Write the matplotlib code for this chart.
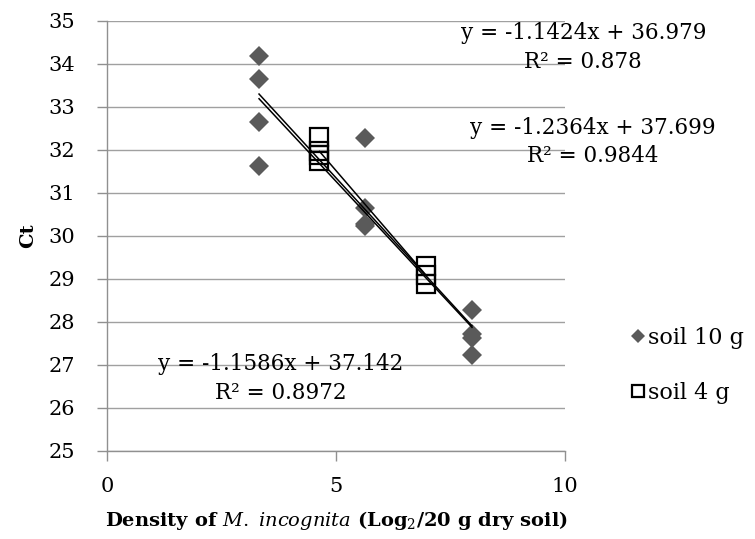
import matplotlib
matplotlib.use("Agg")
import matplotlib.pyplot as plt
import numpy as np

# soil 10 g : densities 10, 50, 250 -> log2
x10 = [3.32, 3.32, 3.32, 3.32, 5.64, 5.64, 5.64, 5.64, 7.97, 7.97, 7.97, 7.97]
ct10 = [34.19, 33.64, 32.65, 31.63, 32.28, 30.65, 30.28, 30.22, 28.27, 27.72, 27.62, 27.23]

# soil 4 g
x4 = [4.64, 4.64, 4.64, 4.64, 6.97, 6.97, 6.97]
ct4 = [32.30, 31.98, 31.88, 31.75, 29.31, 29.08, 28.88]

# trend lines (slope, intercept, x range) and their labels
fit10 = [-1.1424, 36.979]
fit4 = [-1.2364, 37.699]
fitall = [-1.1586, 37.142]
range10 = [3.32, 7.97]
range4 = [4.64, 6.97]
rangeall = [3.32, 7.97]
lab10 = "y = -1.1424x + 36.979\nR² = 0.878"
lab4 = "y = -1.2364x + 37.699\nR² = 0.9844"
laball = "y = -1.1586x + 37.142\nR² = 0.8972"

plt.rcParams['font.family'] = ['DejaVu Serif']
plt.rcParams['mathtext.fontset'] = 'dejavuserif'

fig = plt.figure(figsize=(7.55, 5.39), dpi=100)
ax = fig.add_axes([0.1417, 0.1633, 0.6066, 0.7983])

ax.plot(x10, ct10, linestyle="none", marker="D", markersize=10.5,
        color="#5a5a5a", markeredgewidth=0, label="soil 10 g", zorder=3)
ax.plot(x4, ct4, linestyle="none", marker="s", markersize=13,
        markerfacecolor="none", markeredgecolor="black", markeredgewidth=1.6,
        label="soil 4 g", zorder=3)

for fit, rng in [(fit10, range10), (fit4, range4), (fitall, rangeall)]:
    xs = np.array(rng)
    ax.plot(xs, np.polyval(fit, xs), color="black", linewidth=1.1, zorder=4)

kw = dict(ha="center", va="center", fontsize=15.5, linespacing=1.4, clip_on=False)
ax.text(10.4, 34.38, lab10, **kw)
ax.text(10.6, 32.18, lab4, **kw)
ax.text(3.80, 26.69, laball, **kw)

ax.set_xlim(0, 10)
ax.set_ylim(25, 35)
ax.set_xticks([0, 5, 10])
ax.set_yticks(range(25, 36))
ax.grid(axis="y", color="#a0a0a0", linewidth=1)
ax.set_axisbelow(True)
for s in ["top", "right"]:
    ax.spines[s].set_visible(False)
for s in ["left", "bottom"]:
    ax.spines[s].set_color("#909090")
    ax.spines[s].set_linewidth(1)
ax.tick_params(axis="both", labelsize=15, color="#909090", length=7, width=1)
ax.tick_params(axis="x", pad=12)
ax.tick_params(axis="y", pad=16)

ax.set_ylabel("Ct", fontsize=14, fontweight="bold", labelpad=8)
ax.set_xlabel("Density of $\\it{M.\\ incognita}$ (Log$_2$/20 g dry soil)",
              fontsize=14, fontweight="bold", labelpad=9)

leg = ax.legend(loc="center left", bbox_to_anchor=(1.145, 0.199), frameon=False,
                fontsize=16, handlelength=0.6, handletextpad=0.15,
                labelspacing=1.5, markerscale=0.65, borderpad=0,
                borderaxespad=0)

fig.savefig("out.png", dpi=100)
